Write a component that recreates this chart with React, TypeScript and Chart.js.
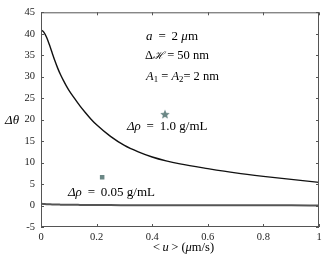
import React, { useEffect, useRef } from "react";
import { Chart, registerables } from "chart.js";
Chart.register(...registerables);

const uValues = [0, 0.01, 0.02, 0.03, 0.04, 0.05, 0.06, 0.07, 0.08, 0.09, 0.1, 0.12, 0.14, 0.16, 0.18, 0.2, 0.25, 0.3, 0.35, 0.4, 0.45, 0.5, 0.6, 0.7, 0.8, 0.9, 1.0];
const dThetaRho1 = [40.9, 40.4, 39.2, 37.5, 35.6, 33.7, 32.0, 30.5, 29.2, 28.0, 26.9, 25.0, 23.2, 21.6, 20.1, 18.8, 16.1, 14.0, 12.5, 11.3, 10.4, 9.7, 8.6, 7.6, 6.8, 6.1, 5.4];
const dThetaRho005 = [0.4, 0.36, 0.32, 0.29, 0.26, 0.24, 0.22, 0.21, 0.2, 0.19, 0.18, 0.16, 0.15, 0.14, 0.13, 0.12, 0.1, 0.09, 0.08, 0.07, 0.07, 0.06, 0.05, 0.05, 0.04, 0.04, 0.03];
const starPoint = { u: 0.446, dTheta: 21.3 };
const squarePoint = { u: 0.22, dTheta: 6.6 };
const xTicks = [0, 0.2, 0.4, 0.6, 0.8, 1];
const yTicks = [-5, 0, 5, 10, 15, 20, 25, 30, 35, 40, 45];

type Seg = { t: string; it?: boolean; sub?: boolean; size?: number };
const annotations: { u: number; v: number; size: number; segs: Seg[] }[] = [
  { u: 0.378, v: 39.4, size: 13, segs: [{ t: "a", it: true }, { t: "\u2009 = \u20092 " }, { t: "μ", it: true }, { t: "m" }] },
  { u: 0.374, v: 34.8, size: 12.5, segs: [{ t: "Δ" }, { t: "ℋ", it: true, size: 10.5 }, { t: " = 50 nm" }] },
  { u: 0.378, v: 30.1, size: 12.5, segs: [{ t: "A", it: true }, { t: "1", sub: true }, { t: " = " }, { t: "A", it: true }, { t: "2", sub: true }, { t: "= 2 nm" }] },
  { u: 0.309, v: 18.3, size: 13, segs: [{ t: "Δρ", it: true }, { t: "\u2009 = \u20091.0 g/mL" }] },
  { u: 0.097, v: 2.9, size: 13, segs: [{ t: "Δρ", it: true }, { t: "\u2009 = \u20090.05 g/mL" }] },
];

const FONT = '"Liberation Serif", "DejaVu Serif", serif';
const markerColor = "#6b8785";

function segFont(s: Seg, size: number) {
  const sz = s.size ?? (s.sub ? size * 0.7 : size);
  return `${s.it ? "italic " : ""}${sz}px ${FONT}`;
}

function richWidth(ctx: CanvasRenderingContext2D, segs: Seg[], size: number) {
  let w = 0;
  for (const s of segs) {
    ctx.font = segFont(s, size);
    w += ctx.measureText(s.t).width;
  }
  return w;
}

function drawRich(ctx: CanvasRenderingContext2D, segs: Seg[], x: number, y: number, size: number) {
  let cx = x;
  ctx.textBaseline = "middle";
  ctx.textAlign = "left";
  ctx.fillStyle = "#000";
  for (const s of segs) {
    ctx.font = segFont(s, size);
    ctx.fillText(s.t, cx, s.sub ? y + size * 0.25 : y);
    cx += ctx.measureText(s.t).width;
  }
}

function makeStar(size: number, color: string) {
  const c = document.createElement("canvas");
  c.width = size;
  c.height = size;
  const g = c.getContext("2d")!;
  const r = size / 2;
  g.fillStyle = color;
  g.beginPath();
  for (let i = 0; i < 10; i++) {
    const rad = i % 2 === 0 ? r : r * 0.45;
    const a = -Math.PI / 2 + (i * Math.PI) / 5;
    const px = r + rad * Math.cos(a);
    const py = r + 0.5 + rad * Math.sin(a);
    if (i === 0) g.moveTo(px, py);
    else g.lineTo(px, py);
  }
  g.closePath();
  g.fill();
  return c;
}

const framePlugin = {
  id: "frame",
  afterDatasetsDraw(chart: any) {
    const { ctx, chartArea: a, scales } = chart;
    const xs = scales.x, ys = scales.y;
    ctx.save();
    ctx.strokeStyle = "#555";
    ctx.lineWidth = 1;
    ctx.strokeRect(a.left + 0.5, a.top + 0.5, a.right - a.left - 1, a.bottom - a.top - 1);
    ctx.beginPath();
    for (const t of xTicks) {
      const px = Math.round(xs.getPixelForValue(t)) + 0.5;
      ctx.moveTo(px, a.bottom);
      ctx.lineTo(px, a.bottom - 3);
      ctx.moveTo(px, a.top);
      ctx.lineTo(px, a.top + 3);
    }
    for (const t of yTicks) {
      const py = Math.round(ys.getPixelForValue(t)) + 0.5;
      ctx.moveTo(a.left, py);
      ctx.lineTo(a.left + 3, py);
      ctx.moveTo(a.right, py);
      ctx.lineTo(a.right - 3, py);
    }
    ctx.stroke();
    for (const an of annotations) {
      drawRich(ctx, an.segs, xs.getPixelForValue(an.u), ys.getPixelForValue(an.v), an.size);
    }
    drawRich(ctx, [{ t: "Δθ", it: true }], 5, (a.top + a.bottom) / 2 + 1, 13);
    const xt: Seg[] = [{ t: "<\u2009" }, { t: "u", it: true }, { t: "\u2009> (" }, { t: "μ", it: true }, { t: "m/s)" }];
    const w = richWidth(ctx, xt, 12.5);
    drawRich(ctx, xt, (a.left + a.right) / 2 + 3.5 - w / 2, 248, 12.5);
    ctx.restore();
  },
};

export default function App() {
  const ref = useRef<HTMLCanvasElement>(null);
  useEffect(() => {
    document.body.style.margin = "0";
    const star = makeStar(10, markerColor);
    const chart = new Chart(ref.current!, {
      type: "line",
      data: {
        datasets: [
          {
            data: uValues.map((u, i) => ({ x: u, y: dThetaRho1[i] })),
            borderColor: "#111",
            borderWidth: 1.4,
            pointRadius: 0,
            cubicInterpolationMode: "monotone",
          },
          {
            data: uValues.map((u, i) => ({ x: u, y: dThetaRho005[i] })),
            borderColor: "#555",
            borderWidth: 2,
            pointRadius: 0,
            cubicInterpolationMode: "monotone",
          },
          {
            data: [{ x: starPoint.u, y: starPoint.dTheta }],
            showLine: false,
            pointStyle: star as any,
            pointRadius: 5,
          },
          {
            data: [{ x: squarePoint.u, y: squarePoint.dTheta }],
            showLine: false,
            pointStyle: "rect",
            pointRadius: 3.2,
            backgroundColor: markerColor,
            borderColor: markerColor,
            borderWidth: 0,
          },
        ],
      },
      options: {
        responsive: false,
        animation: false,
        layout: { padding: { left: 0, right: 8, top: 6, bottom: 0 } },
        plugins: { legend: { display: false }, tooltip: { enabled: false } },
        scales: {
          x: {
            type: "linear",
            min: 0,
            max: 1,
            grid: { display: false, drawTicks: false },
            border: { display: false },
            afterFit: (s: any) => { s.height = 35; },
            afterBuildTicks: (s: any) => { s.ticks = xTicks.map((v) => ({ value: v })); },
            ticks: {
              padding: 4,
              color: "#222",
              font: { family: FONT, size: 10.5 },
              callback: (v: any) => String(v),
            },
          },
          y: {
            min: -5,
            max: 45,
            grid: { display: false, drawTicks: false },
            border: { display: false },
            afterFit: (s: any) => { s.width = 41; },
            afterBuildTicks: (s: any) => { s.ticks = yTicks.map((v) => ({ value: v })); },
            ticks: {
              padding: 6,
              color: "#222",
              font: { family: FONT, size: 10.5 },
              callback: (v: any) => String(v),
            },
          },
        },
      },
      plugins: [framePlugin],
    } as any);
    return () => chart.destroy();
  }, []);
  return (
    <div style={{ width: 327, height: 262, background: "#fff" }}>
      <canvas ref={ref} width={327} height={262} />
    </div>
  );
}
